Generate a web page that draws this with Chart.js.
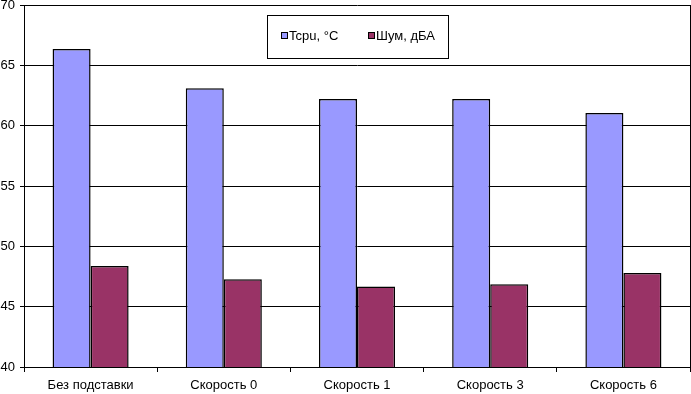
<!DOCTYPE html>
<html lang="ru">

<head>
    <meta charset="UTF-8">
    <title>Tcpu и шум</title>
    <script src="https://cdn.jsdelivr.net/npm/chart.js"></script>
    <style>
        html, body { margin: 0; padding: 0; background: #fff; }
        #grafico { width: 691px; height: 394px; }
    </style>
</head>

<body>
    <div id="grafico">
        <canvas id="myChartCanvas1" width="691" height="394"></canvas>
    </div>

    <script>
        // dados
        const categorias = ['Без подставки', 'Скорость 0', 'Скорость 1', 'Скорость 3', 'Скорость 6'];
        const tcpu = [66.35, 63.1, 62.2, 62.2, 61.05];
        const shum = [48.38, 47.28, 46.68, 46.86, 47.78];
        const nomesSeries = ['Tcpu, °C', 'Шум, дБА'];
        const eixoY = { min: 40, max: 70, passo: 5 };

        const fonte = { family: '"Liberation Sans", Arial, sans-serif', size: 13 };

        // legenda com moldura dentro da área do gráfico + borda direita
        const legendaBox = {
            id: 'legendaBox',
            afterDraw(chart) {
                const ctx = chart.ctx;
                const area = chart.chartArea;
                ctx.save();

                // borda direita da área
                ctx.strokeStyle = '#000';
                ctx.lineWidth = 1;
                ctx.beginPath();
                ctx.moveTo(Math.round(area.right) + 0.5, area.top);
                ctx.lineTo(Math.round(area.right) + 0.5, area.bottom);
                ctx.stroke();

                // caixa da legenda
                ctx.fillStyle = '#fff';
                ctx.fillRect(267.5, 15.5, 181, 43);
                ctx.strokeRect(267.5, 15.5, 181, 43);

                ctx.font = fonte.size + 'px ' + fonte.family;
                ctx.textBaseline = 'middle';
                const posX = [281, 368];
                chart.data.datasets.forEach((ds, i) => {
                    ctx.fillStyle = ds.backgroundColor;
                    ctx.fillRect(posX[i] + 0.5, 32.5, 6, 6);
                    ctx.strokeStyle = '#000';
                    ctx.strokeRect(posX[i] + 0.5, 32.5, 6, 6);
                    ctx.fillStyle = '#000';
                    ctx.fillText(ds.label, posX[i] + 8, 36);
                });
                ctx.restore();
            }
        };

        const dados = {
            labels: categorias,
            datasets: [{
                label: nomesSeries[0],
                data: tcpu,
                backgroundColor: '#9999FF',
                borderColor: '#000',
                borderWidth: 1.5
            }, {
                label: nomesSeries[1],
                data: shum,
                backgroundColor: '#993366',
                borderColor: '#000',
                borderWidth: 1.5
            }]
        };

        const config = {
            type: 'bar',
            data: dados,
            options: {
                responsive: false,
                animation: false,
                datasets: {
                    bar: {
                        categoryPercentage: 0.571,
                        barPercentage: 1.0
                    }
                },
                layout: {
                    padding: { top: 5, right: 1, left: 0, bottom: 0 }
                },
                scales: {
                    x: {
                        grid: {
                            drawOnChartArea: false,
                            drawTicks: true,
                            tickLength: 5,
                            color: '#000'
                        },
                        border: { color: '#000' },
                        ticks: {
                            color: '#000',
                            font: fonte,
                            padding: 6,
                            maxRotation: 0
                        },
                        afterFit(scale) {
                            scale.height = 27;
                            scale.paddingLeft = 0;
                            scale.paddingRight = 0;
                        }
                    },
                    y: {
                        min: eixoY.min,
                        max: eixoY.max,
                        grid: {
                            color: '#000',
                            tickLength: 4
                        },
                        border: { color: '#000' },
                        ticks: {
                            stepSize: eixoY.passo,
                            color: '#000',
                            font: fonte,
                            padding: 5
                        },
                        afterFit(scale) {
                            scale.width = 24;
                            scale.paddingTop = 0;
                            scale.paddingBottom = 0;
                        }
                    }
                },
                plugins: {
                    legend: { display: false },
                    tooltip: { enabled: false }
                }
            },
            plugins: [legendaBox]
        };

        const ctx = document.getElementById('myChartCanvas1').getContext('2d');
        new Chart(ctx, config);
    </script>
</body>

</html>
